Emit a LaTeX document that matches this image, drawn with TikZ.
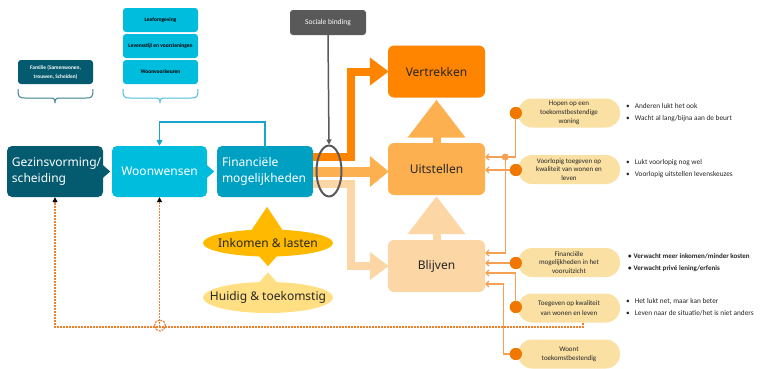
\documentclass[tikz,border=0pt]{standalone}
\usepackage{fontspec}
\setmainfont{Noto Sans}
\newfontfamily\calfont{Carlito}
\usetikzlibrary{arrows.meta,calc,shapes.geometric}
\definecolor{darkteal}{HTML}{045B6F}
\definecolor{cyanA}{HTML}{00BCDD}
\definecolor{tealB}{HTML}{00A0C2}
\definecolor{orangeD}{HTML}{FF8400}
\definecolor{orangeM}{HTML}{FDB04F}
\definecolor{orangeL}{HTML}{FDD6A6}
\definecolor{goldA}{HTML}{FFBA00}
\definecolor{goldL}{HTML}{FFDF82}
\definecolor{pillc}{HTML}{FAE0A2}
\definecolor{dotc}{HTML}{F07700}
\definecolor{connc}{HTML}{F4A055}
\definecolor{dashc}{HTML}{F07F2C}
\definecolor{greyc}{HTML}{595959}
\definecolor{braceA}{HTML}{3A7E91}
\definecolor{braceB}{HTML}{4BBBD7}
\definecolor{fbc}{HTML}{19A5CB}
\definecolor{txt}{HTML}{262626}
\begin{document}
\begin{tikzpicture}[x=1pt,y=-1pt,
  mainbox/.style={rounded corners=5pt, minimum height=51pt, inner sep=5pt,
    font=\fontsize{12}{16}\selectfont, text=white},
  outbox/.style={rounded corners=6pt, minimum width=97pt, minimum height=52pt,
    font=\fontsize{12}{16}\selectfont, text=txt},
  smallbox/.style={rounded corners=3pt, minimum width=75pt, minimum height=24pt,
    inner sep=1pt, font=\calfont\bfseries\fontsize{5.5}{6.5}\selectfont, align=center},
  pill/.style={fill=pillc, rounded corners=14pt, minimum width=102pt, minimum height=29pt,
    inner sep=1pt, align=center, text=txt, font=\calfont\fontsize{7}{8.8}\selectfont},
  dotn/.style={circle, fill=dotc, minimum size=12pt, inner sep=0pt},
  bul/.style={anchor=west, inner sep=0pt, align=left, text=txt,
    font=\calfont\fontsize{7.3}{12}\selectfont},
  conn/.style={connc, line width=1.2pt, -{Straight Barb[length=3pt,width=6pt]}},
  dashline/.style={dashc, line width=1.1pt, dash pattern=on 2pt off 1pt},
  bigar/.style={line width=#1, line join=miter},
  bubble/.style={minimum width=130pt, text=txt, font=\fontsize{12}{14}\selectfont, inner sep=0pt},
]
\useasboundingbox (0,0) rectangle (761,368);

% top-left boxes
\node[smallbox, fill=darkteal, text=white, font=\calfont\bfseries\fontsize{5.4}{9}\selectfont] (fam) at (55.5,72) {Familie (Samenwonen,\\trouwen, Scheiden)};
\node[smallbox, fill=cyanA] (leef) at (160.5,20) {Leefomgeving};
\node[smallbox, fill=cyanA] (lev) at (160.5,46) {Levensstijl en voorzieningen};
\node[smallbox, fill=cyanA] (wvk) at (160.5,72) {Woonvoorkeuren};
\draw[braceA, line width=1pt] (18,89) .. controls (18,97) and (19,98) .. (25,98) -- (50,98)
  .. controls (54,98) and (55,99) .. (55,103) .. controls (55,99) and (56,98) .. (60,98)
  -- (86,98) .. controls (92,98) and (93,97) .. (93,89);
\draw[braceB, line width=1pt] (123,89) .. controls (123,97) and (124,98) .. (130,98) -- (155,98)
  .. controls (159,98) and (160,99) .. (160,103) .. controls (160,99) and (161,98) .. (165,98)
  -- (191,98) .. controls (197,98) and (198,97) .. (198,89);

% main chain
\node[mainbox, fill=darkteal, text width=86pt, align=left] (gez) at (55,171.5) {Gezinsvorming/\\scheiding};
\node[mainbox, fill=cyanA, minimum width=95pt, align=center] (woon) at (159.5,171.5) {Woonwensen};
\node[mainbox, fill=tealB, text width=86pt, align=left] (fin) at (265,171.5) {Financiële\\mogelijkheden};
\fill[darkteal] ($(gez.east)+(-1,-7)$) -- ($(gez.east)+(7,0)$) -- ($(gez.east)+(-1,7)$) -- cycle;
\fill[cyanA] ($(woon.east)+(-1,-7)$) -- ($(woon.east)+(7,0)$) -- ($(woon.east)+(-1,7)$) -- cycle;
\draw[fbc, line width=1.5pt, -{Triangle[length=6pt,width=6pt]}] (fin.north) -- ++(0,-24) -| (woon.north);

% outcome boxes
\node[outbox, fill=orangeD] (vert) at (436.5,71.5) {Vertrekken};
\node[outbox, fill=orangeM] (uit) at (436.5,169) {Uitstellen};
\node[outbox, fill=orangeL] (blij) at (436.5,266) {Blijven};
\draw[orangeM, line width=8pt, -{Triangle[length=38pt,width=56pt]}, shorten >=2pt] (uit.north) -- (vert.south);
\draw[orangeL, line width=8pt, -{Triangle[length=38pt,width=56pt]}, shorten >=1pt] (blij.north) -- (uit.south);

% big orange arrows
\draw[bigar=8pt, orangeL, -{Triangle[length=19pt,width=27pt]}] ($(fin.east)+(0,12.5)$) -- ++(37.5,0) |- ($(blij.west)+(1,0)$);
\draw[bigar=10pt, orangeM, -{Triangle[length=19pt,width=30pt]}] (fin.east) -- ($(uit.west)+(1,2.5)$);
\draw[bigar=8pt, orangeD, -{Triangle[length=19pt,width=27pt]}] ($(fin.east)+(0,-14.5)$) -- ++(37.5,0) |- ($(vert.west)+(1,0)$);

% sociale binding
\node[rounded corners=3pt, fill=greyc, text=white, minimum width=76pt, minimum height=25pt,
  font=\calfont\fontsize{7.5}{9}\selectfont] (soc) at (328,22.5) {Sociale binding};
\node[draw=greyc, line width=2pt, ellipse, minimum width=25pt, minimum height=51pt, inner sep=0pt] (ring) at (329,171) {};
\draw[greyc, line width=1.5pt, -{Triangle[length=5pt,width=5pt]}] (soc.south) -- (ring.north);

% inkomen bubbles
\fill[goldA] (268,243) ellipse[x radius=65pt, y radius=13.5pt];
\fill[goldL] (268,297.5) ellipse[x radius=65pt, y radius=15.5pt];
\node[bubble, minimum height=27pt] (ink) at (268,243) {Inkomen \& lasten};
\node[bubble, minimum height=31pt] (hui) at (268,297.5) {Huidig \& toekomstig};
\fill[goldA] ($(ink.north)+(-1,-22.5)$) -- ($(ink.north)+(18,6)$) -- ($(ink.north)+(-20,6)$) -- cycle;
\fill[goldA] ($(ink.south)+(0,9.5)$) -- ($(ink.south)+(11,-3)$) -- ($(ink.south)+(-11,-3)$) -- cycle;
\fill[goldL] ($(hui.north)+(0,-9.5)$) -- ($(hui.north)+(11,3)$) -- ($(hui.north)+(-11,3)$) -- cycle;

% pills
\node[pill] (p1) at (569,113) {Hopen op een\\toekomstbestendige\\woning};
\node[pill] (p2) at (569,169.5) {Voorlopig toegeven op\\kwaliteit van wonen en\\leven};
\node[pill] (p3) at (569,262.5) {Financiële\\mogelijkheden in het\\vooruitzicht};
\node[pill, font=\calfont\fontsize{7}{10}\selectfont] (p4) at (569,308) {Toegeven op kwaliteit\\van wonen en leven};
\node[pill] (p5) at (569,354) {Woont\\toekomstbestendig};

% connectors
\coordinate (jn) at ($(uit.east)+(20,-12)$);
\node[dotn] (d1) at ($(p1.west)+(-2,0)$) {};
\node[dotn] (d2) at ($(p2.west)+(-2,0.5)$) {};
\node[dotn] (d3) at ($(p3.west)+(-2,0.5)$) {};
\node[dotn] (d4) at ($(p4.west)+(-2,-1)$) {};
\node[dotn] (d5) at ($(p5.west)+(-2,0)$) {};
\draw[conn] (d1.center) |- ($(uit.east)+(0,-12)$);
\draw[conn] (d2.center) -- (d2.center -| uit.east);
\draw[conn] (jn) |- ($(blij.east)+(0,-13)$);
\draw[conn] (d3.center) -- (d3.center -| blij.east);
\draw[conn] (d4.center) |- ($(blij.east)+(0,7)$);
\draw[conn] (d5.center) -| ($(blij.east)+(18,18)$) -- ($(blij.east)+(0,18)$);
\fill[connc] (jn) circle[radius=3.5pt];
\node[dotn] at (d1) {};
\node[dotn] at (d2) {};
\node[dotn] at (d3) {};
\node[dotn] at (d4) {};
\node[dotn] at (d5) {};

% dashed feedback
\coordinate (dl) at (0,327);
\draw[dashline, -{Triangle[length=5pt,width=5pt,color=black]}] ($(p4.south)+(14,0)$) |- (gez.south |- dl) -- (gez.south);
\draw[dashline, -{Triangle[length=5pt,width=5pt,color=black]}] (woon.south |- dl) -- (woon.south);
\draw[dashline] ($(woon.south |- dl)+(0.5,-1.5)$) circle[radius=5.5pt];

% bullets
\node[bul] (b1) at (626,113) {\textbullet\hspace{5pt}Anderen lukt het ook\\\textbullet\hspace{5pt}Wacht al lang/bijna aan de beurt};
\node[bul] (b2) at (626,169) {\textbullet\hspace{5pt}Lukt voorlopig nog wel\\\textbullet\hspace{5pt}Voorlopig uitstellen levenskeuzes};
\node[bul, font=\calfont\bfseries\fontsize{7}{11.5}\selectfont] (b3) at (628,262.5) {\textbullet\hspace{2pt}Verwacht meer inkomen/minder kosten\\\textbullet\hspace{2pt}Verwacht privé lening/erfenis};
\node[bul] (b4) at (626,307.5) {\textbullet\hspace{5pt}Het lukt net, maar kan beter\\\textbullet\hspace{5pt}Leven naar de situatie/het is niet anders};
\end{tikzpicture}
\end{document}
